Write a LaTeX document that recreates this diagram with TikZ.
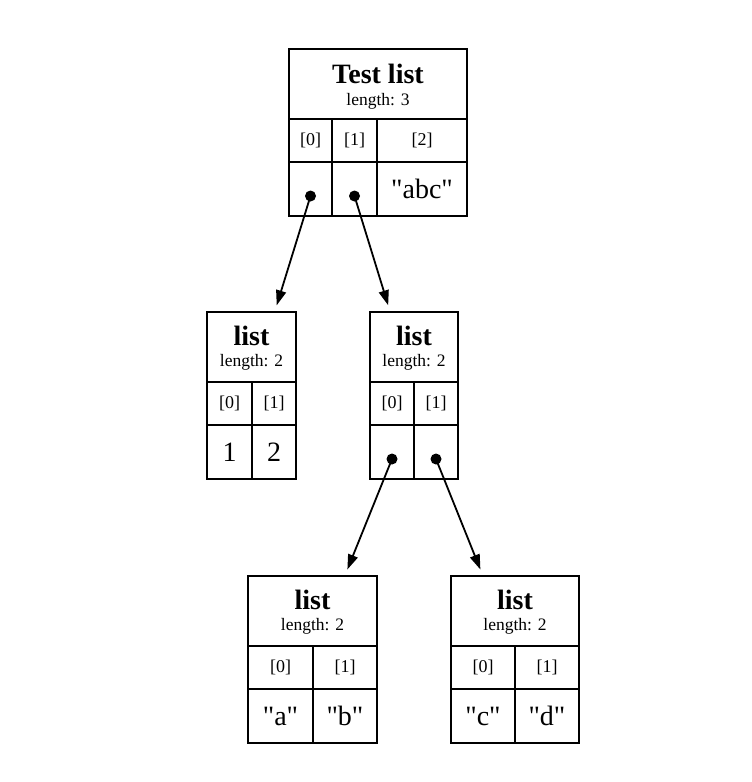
\documentclass[tikz,border=0pt]{standalone}
\usepackage{fontspec}
\setmainfont{Liberation Serif}
\usetikzlibrary{arrows.meta, calc, positioning}

\newcommand{\qstr}[1]{\textquotedbl#1\textquotedbl}

\tikzset{
  cell/.style={draw, line width=1.8pt, inner sep=0pt, outer sep=0pt},
  head/.style={cell, minimum height=70pt},
  idx/.style={cell, minimum height=43pt, font=\fontsize{18}{18}\selectfont},
  val/.style={cell, minimum height=54pt, font=\fontsize{28}{28}\selectfont},
  ttl/.style={anchor=base, inner sep=0pt, font=\fontsize{28}{28}\selectfont\bfseries},
  len/.style={anchor=base, inner sep=0pt, font=\fontsize{17.5}{18}\selectfont},
  ref/.style={circle, fill, inner sep=0pt, minimum size=11pt},
  ptr/.style={-{Triangle[length=15pt,width=10pt]}, line width=1.8pt, shorten >=7pt}
}

\begin{document}
\begin{tikzpicture}[x=1pt, y=-1pt]
  \useasboundingbox (0,0) rectangle (752,782);

  % Test list
  \node[head, minimum width=178pt, anchor=north west] (top) at (289,49) {};
  \node[ttl] (top-t) at ($(top.north)+(0,34)$) {Test list};
  \node[len] (top-l) at ($(top.north)+(0,56)$) {length: 3};
  \node[idx, minimum width=43pt, below right=0pt of top.south west] (top-i0) {[0]};
  \node[idx, minimum width=45pt, right=0pt of top-i0] (top-i1) {[1]};
  \node[idx, minimum width=90pt, right=0pt of top-i1] (top-i2) {[2]};
  \node[val, minimum width=43pt, below=0pt of top-i0] (top-v0) {};
  \node[val, minimum width=45pt, below=0pt of top-i1] (top-v1) {};
  \node[val, minimum width=90pt, below=0pt of top-i2] (top-v2) {\qstr{abc}};
  \node[ref] (top-d0) at ($(top-v0.south)+(0,-20)$) {};
  \node[ref] (top-d1) at ($(top-v1.south)+(0,-20)$) {};

  % list [0]
  \node[head, minimum width=89pt, anchor=north west] (la) at (207,312) {};
  \node[ttl] (la-t) at ($(la.north)+(0,33)$) {list};
  \node[len] (la-l) at ($(la.north)+(0,54)$) {length: 2};
  \node[idx, minimum width=45pt, below right=0pt of la.south west] (la-i0) {[0]};
  \node[idx, minimum width=44pt, right=0pt of la-i0] (la-i1) {[1]};
  \node[val, minimum width=45pt, below=0pt of la-i0] (la-v0) {1};
  \node[val, minimum width=44pt, below=0pt of la-i1] (la-v1) {2};

  % list [1]
  \node[head, minimum width=88pt, anchor=north west] (lb) at (370,312) {};
  \node[ttl] (lb-t) at ($(lb.north)+(0,33)$) {list};
  \node[len] (lb-l) at ($(lb.north)+(0,54)$) {length: 2};
  \node[idx, minimum width=44pt, below right=0pt of lb.south west] (lb-i0) {[0]};
  \node[idx, minimum width=44pt, right=0pt of lb-i0] (lb-i1) {[1]};
  \node[val, minimum width=44pt, below=0pt of lb-i0] (lb-v0) {};
  \node[val, minimum width=44pt, below=0pt of lb-i1] (lb-v1) {};
  \node[ref] (lb-d0) at ($(lb-v0.south)+(0,-20)$) {};
  \node[ref] (lb-d1) at ($(lb-v1.south)+(0,-20)$) {};

  % list [1][0]
  \node[head, minimum width=129pt, anchor=north west] (lc) at (248,576) {};
  \node[ttl] (lc-t) at ($(lc.north)+(0,33)$) {list};
  \node[len] (lc-l) at ($(lc.north)+(0,54)$) {length: 2};
  \node[idx, minimum width=65pt, below right=0pt of lc.south west] (lc-i0) {[0]};
  \node[idx, minimum width=64pt, right=0pt of lc-i0] (lc-i1) {[1]};
  \node[val, minimum width=65pt, below=0pt of lc-i0] (lc-v0) {\qstr{a}};
  \node[val, minimum width=64pt, below=0pt of lc-i1] (lc-v1) {\qstr{b}};

  % list [1][1]
  \node[head, minimum width=128pt, anchor=north west] (ld) at (451,576) {};
  \node[ttl] (ld-t) at ($(ld.north)+(0,33)$) {list};
  \node[len] (ld-l) at ($(ld.north)+(0,54)$) {length: 2};
  \node[idx, minimum width=64pt, below right=0pt of ld.south west] (ld-i0) {[0]};
  \node[idx, minimum width=64pt, right=0pt of ld-i0] (ld-i1) {[1]};
  \node[val, minimum width=64pt, below=0pt of ld-i0] (ld-v0) {\qstr{c}};
  \node[val, minimum width=64pt, below=0pt of ld-i1] (ld-v1) {\qstr{d}};

  % Pointers
  \draw[ptr] (top-d0.center) -- ($(la.north west)!0.76!(la.north east)$);
  \draw[ptr] (top-d1.center) -- ($(lb.north west)!0.23!(lb.north east)$);
  \draw[ptr] (lb-d0.center) -- ($(lc.north west)!0.75!(lc.north east)$);
  \draw[ptr] (lb-d1.center) -- ($(ld.north west)!0.25!(ld.north east)$);
\end{tikzpicture}
\end{document}
